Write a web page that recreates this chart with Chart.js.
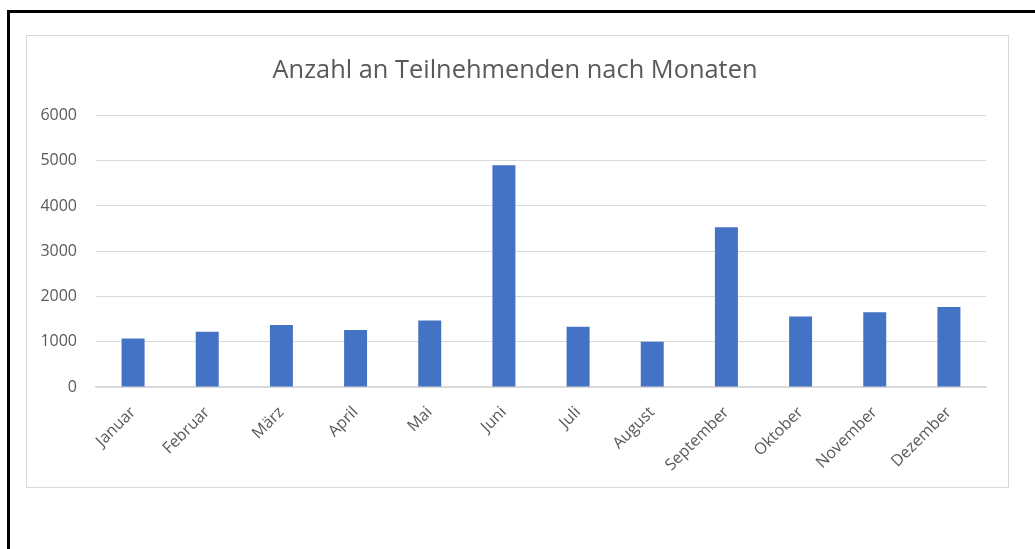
<!DOCTYPE html>
<html>
<head>
<meta charset="utf-8">
<script src="https://cdn.jsdelivr.net/npm/chart.js@4/dist/chart.umd.min.js"></script>
<style>
  html, body { margin: 0; padding: 0; background: #fff; }
  body { width: 1035px; height: 549px; position: relative; overflow: hidden; }
  /* black page border (left + top) */
  #page { position: absolute; left: 7px; top: 10px; width: 1040px; height: 560px;
          border-left: 3px solid #000; border-top: 3px solid #000; }
  /* grey chart frame */
  #frame { position: absolute; left: 26px; top: 35px; width: 981px; height: 451px;
           border: 1px solid #d9d9d9; }
  #frame canvas { position: absolute; left: 0; top: 0; }
</style>
</head>
<body>
<div id="page"></div>
<div id="frame"><canvas id="chart" width="981" height="451"></canvas></div>
<script>
// ── data ──
const months = ['Januar', 'Februar', 'März', 'April', 'Mai', 'Juni',
                'Juli', 'August', 'September', 'Oktober', 'November', 'Dezember'];
const participants = [1070, 1220, 1370, 1260, 1470, 4900, 1330, 1000, 3530, 1560, 1650, 1770];
const yTicks = [0, 1000, 2000, 3000, 4000, 5000, 6000];
const chartTitle = 'Anzahl an Teilnehmenden nach Monaten';

const font = "'Open Sans', 'Noto Sans', sans-serif";
const grey = '#595959';

// right layout padding pushes the title off-centre; widen its box again
const recentreTitle = {
  id: 'recentreTitle',
  afterLayout(chart) {
    if (chart.titleBlock) chart.titleBlock.right += 17;
  }
};

new Chart(document.getElementById('chart').getContext('2d'), {
  type: 'bar',
  data: {
    labels: months,
    datasets: [{
      data: participants,
      backgroundColor: '#4472C4',
      borderWidth: 0,
      categoryPercentage: 1,
      barPercentage: 0.31
    }]
  },
  options: {
    responsive: false,
    animation: false,
    layout: { padding: { top: 0, right: 22, bottom: 0, left: 0 } },
    plugins: {
      legend: { display: false },
      tooltip: { enabled: false },
      title: {
        display: true,
        text: chartTitle,
        color: grey,
        font: { family: font, size: 25.4, weight: 'normal' },
        padding: { top: 20, bottom: 29 }
      }
    },
    scales: {
      x: {
        grid: { display: false, drawTicks: false },
        border: { display: true, color: '#d9d9d9', width: 1.5 },
        ticks: {
          color: grey,
          font: { family: font, size: 16 },
          minRotation: 45,
          maxRotation: 45,
          autoSkip: false,
          padding: 16
        },
        afterFit: s => { s.height = 100; }
      },
      y: {
        min: 0,
        max: 6000,
        afterBuildTicks: s => { s.ticks = yTicks.map(v => ({ value: v })); },
        grid: { color: '#d9d9d9', lineWidth: 1, drawTicks: false },
        border: { display: false },
        ticks: {
          color: grey,
          font: { family: font, size: 16 },
          padding: 19,
          callback: v => String(v)
        },
        afterFit: s => { s.width = 69; }
      }
    }
  },
  plugins: [recentreTitle]
});
</script>
</body>
</html>
